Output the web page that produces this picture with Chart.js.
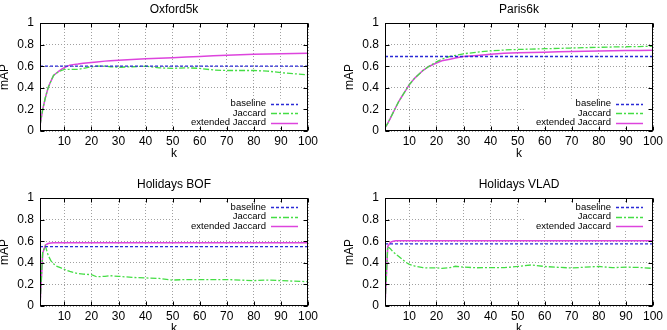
<!DOCTYPE html>
<html><head><meta charset="utf-8">
<script src="https://cdn.jsdelivr.net/npm/chart.js@4.4.1/dist/chart.umd.min.js"></script>
<style>
html,body{margin:0;padding:0;background:#fff;overflow:hidden;width:667px;height:330px;position:relative}
canvas{position:absolute}
</style></head><body>
<canvas id="c1" width="343" height="165" style="left:-15px;top:0px"></canvas>
<canvas id="c2" width="343" height="165" style="left:330px;top:0px"></canvas>
<canvas id="c3" width="343" height="175" style="left:-15px;top:165px"></canvas>
<canvas id="c4" width="343" height="175" style="left:330px;top:165px"></canvas>
<script>
// ---- data ----
const K = [1,2,3,4,5,6,7,8,9,10,12,15,17,20,22,25,27,30,35,40,45,50,55,60,65,70,75,80,85,90,95,100];
const K_BASE = [1, 100];
const X_TICKS = [10,20,30,40,50,60,70,80,90,100];
const Y_TICKS = [0,0.2,0.4,0.6,0.8,1];
const SERIES_NAMES = ['baseline','Jaccard','extended Jaccard'];
const TITLES = ['Oxford5k','Paris6k','Holidays BOF','Holidays VLAD'];

const oxfordBaseline = [0.6, 0.6];
const oxfordJaccard  = [0.05,0.2,0.31,0.4,0.46,0.515,0.535,0.55,0.56,0.57,0.57,0.57,0.58,0.595,0.6,0.6,0.595,0.59,0.595,0.6,0.585,0.58,0.585,0.58,0.565,0.56,0.56,0.56,0.555,0.54,0.53,0.52];
const oxfordExtended = [0.05,0.2,0.31,0.4,0.46,0.515,0.535,0.555,0.572,0.587,0.61,0.62,0.628,0.635,0.64,0.647,0.65,0.655,0.663,0.668,0.673,0.678,0.685,0.69,0.697,0.702,0.706,0.71,0.713,0.716,0.718,0.72];

const parisBaseline = [0.69, 0.69];
const parisJaccard  = [0.03,0.07,0.12,0.17,0.22,0.27,0.31,0.35,0.39,0.43,0.49,0.56,0.595,0.64,0.665,0.69,0.7,0.715,0.73,0.742,0.75,0.755,0.758,0.762,0.765,0.768,0.772,0.775,0.778,0.78,0.782,0.785];
const parisExtended = [0.03,0.07,0.12,0.17,0.22,0.27,0.31,0.35,0.39,0.43,0.49,0.56,0.595,0.63,0.65,0.665,0.675,0.69,0.7,0.71,0.72,0.725,0.728,0.73,0.733,0.735,0.738,0.74,0.742,0.745,0.745,0.747];

const bofBaseline = [0.55, 0.55];
const bofJaccard  = [0,0.5,0.555,0.47,0.42,0.39,0.37,0.36,0.35,0.34,0.32,0.3,0.295,0.29,0.27,0.275,0.28,0.275,0.265,0.26,0.255,0.24,0.245,0.245,0.245,0.245,0.24,0.235,0.24,0.235,0.23,0.225];
const bofExtended = [0,0.49,0.565,0.578,0.583,0.585,0.585,0.585,0.585,0.585,0.586,0.586,0.586,0.586,0.586,0.586,0.586,0.586,0.586,0.586,0.586,0.586,0.586,0.586,0.586,0.586,0.586,0.586,0.586,0.586,0.586,0.586];

const vladBaseline = [0.575, 0.575];
const vladJaccard  = [0,0.55,0.53,0.5,0.48,0.46,0.44,0.42,0.4,0.385,0.37,0.355,0.352,0.353,0.348,0.355,0.368,0.36,0.354,0.355,0.355,0.366,0.38,0.366,0.358,0.352,0.36,0.366,0.355,0.36,0.357,0.348];
const vladExtended = [0,0.55,0.59,0.6,0.605,0.605,0.605,0.605,0.605,0.605,0.605,0.605,0.605,0.605,0.605,0.605,0.605,0.605,0.605,0.605,0.605,0.605,0.605,0.605,0.605,0.605,0.605,0.605,0.605,0.605,0.605,0.605];

// ---- styling ----
const FONT = '"Liberation Sans", Arial, Helvetica, sans-serif';
const BLUE = '#2a2ad6', GREEN = '#44dd44', MAGENTA = '#dd44dd';

const gpFrame = {
  id: 'gpFrame',
  afterDraw(chart, args, opts) {
    const ctx = chart.ctx, a = chart.chartArea;
    const xs = chart.scales.x, ys = chart.scales.y;
    // key (legend) box
    const ds = chart.data.datasets;
    const lh = 9.4;
    ctx.save();
    ctx.font = '9.5px ' + FONT;
    let maxW = 0;
    ds.forEach(d => { maxW = Math.max(maxW, ctx.measureText(d.label).width); });
    const y0 = opts.at === 'bottom' ? a.bottom - 8.5 - lh * (ds.length - 1) : a.top + 9.3;
    const textRight = a.right - 42;
    ctx.fillStyle = '#fff';
    ctx.fillRect(textRight - maxW - 10, y0 - 5, a.right - 3 - (textRight - maxW - 10), lh * (ds.length - 1) + 10);
    ds.forEach((d, i) => {
      const y = y0 + i * lh;
      ctx.fillStyle = '#000';
      ctx.textAlign = 'right';
      ctx.textBaseline = 'middle';
      ctx.fillText(d.label, textRight, y);
      ctx.strokeStyle = d.borderColor;
      ctx.lineWidth = d.borderWidth;
      ctx.setLineDash(d.borderDash || []);
      ctx.beginPath();
      ctx.moveTo(a.right - 37, Math.round(y) + 0.5);
      ctx.lineTo(a.right - 10, Math.round(y) + 0.5);
      ctx.stroke();
    });
    ctx.setLineDash([]);
    // border + inward ticks
    ctx.strokeStyle = '#000';
    ctx.lineWidth = 1;
    const L = Math.round(a.left) + 0.5, R = Math.round(a.right) - 0.5, T = Math.round(a.top) + 0.5, B = Math.round(a.bottom) - 0.5;
    ctx.strokeRect(L, T, R - L, B - T);
    ctx.beginPath();
    xs.ticks.forEach(t => {
      const px = Math.round(xs.getPixelForValue(t.value)) + 0.5;
      ctx.moveTo(px, B); ctx.lineTo(px, B - 4);
      ctx.moveTo(px, T); ctx.lineTo(px, T + 4);
    });
    ys.ticks.forEach(t => {
      const py = Math.round(ys.getPixelForValue(t.value)) + 0.5;
      ctx.moveTo(L, py); ctx.lineTo(L + 4, py);
      ctx.moveTo(R, py); ctx.lineTo(R - 4, py);
    });
    ctx.stroke();
    ctx.restore();
  }
};

function pts(xs, ys) { return xs.map((x, i) => ({x: x, y: ys[i]})); }

function build(id, title, base, jac, ext, keyAt, titlePad) {
  new Chart(document.getElementById(id), {
    type: 'line',
    data: { datasets: [
      {label: SERIES_NAMES[0], data: pts(K_BASE, base), borderColor: BLUE, borderWidth: 1.3, borderDash: [3, 2]},
      {label: SERIES_NAMES[1], data: pts(K, jac), borderColor: GREEN, borderWidth: 1.3, borderDash: [6, 2, 2, 2]},
      {label: SERIES_NAMES[2], data: pts(K, ext), borderColor: MAGENTA, borderWidth: 1.5}
    ]},
    options: {
      responsive: false, animation: false, devicePixelRatio: 1,
      layout: {padding: {left: 0, right: 20, top: 0, bottom: 0}},
      elements: {point: {radius: 0}, line: {tension: 0, fill: false}},
      plugins: {
        legend: {display: false}, tooltip: {enabled: false},
        title: {display: true, text: title, fullSize: false, color: '#000',
                font: {family: FONT, size: 12, weight: 'normal'}, padding: titlePad},
        gpFrame: {at: keyAt}
      },
      scales: {
        x: {
          type: 'linear', min: 1, max: 100,
          afterBuildTicks: s => { s.ticks = X_TICKS.map(v => ({value: v})); },
          afterFit: s => { s.height = 34; },
          grid: {color: '#a0a0a0', lineWidth: 1, drawTicks: false},
          border: {display: false, dash: [1, 2]},
          ticks: {color: '#000', font: {family: FONT, size: 12}, padding: 3, maxRotation: 0, autoSkip: false,
                  callback: v => String(v)},
          title: {display: true, text: 'k', color: '#000', font: {family: FONT, size: 12}, padding: {top: 0, bottom: 4}}
        },
        y: {
          type: 'linear', min: 0, max: 1,
          afterBuildTicks: s => { s.ticks = Y_TICKS.map(v => ({value: v})); },
          afterFit: s => { s.width = 55; },
          grid: {color: '#a0a0a0', lineWidth: 1, drawTicks: false},
          border: {display: false, dash: [1, 2]},
          ticks: {color: '#000', font: {family: FONT, size: 12}, padding: 6, autoSkip: false,
                  callback: v => String(v)},
          title: {display: true, text: 'mAP', color: '#000', font: {family: FONT, size: 12}, padding: {top: 12, bottom: 0}}
        }
      }
    },
    plugins: [gpFrame]
  });
}

build('c1', TITLES[0], oxfordBaseline, oxfordJaccard, oxfordExtended, 'bottom', {top: 2, bottom: 6.6});
build('c2', TITLES[1], parisBaseline, parisJaccard, parisExtended, 'bottom', {top: 2, bottom: 6.6});
build('c3', TITLES[2], bofBaseline, bofJaccard, bofExtended, 'top', {top: 12.8, bottom: 5.8});
build('c4', TITLES[3], vladBaseline, vladJaccard, vladExtended, 'top', {top: 12.8, bottom: 5.8});
</script>
</body></html>
